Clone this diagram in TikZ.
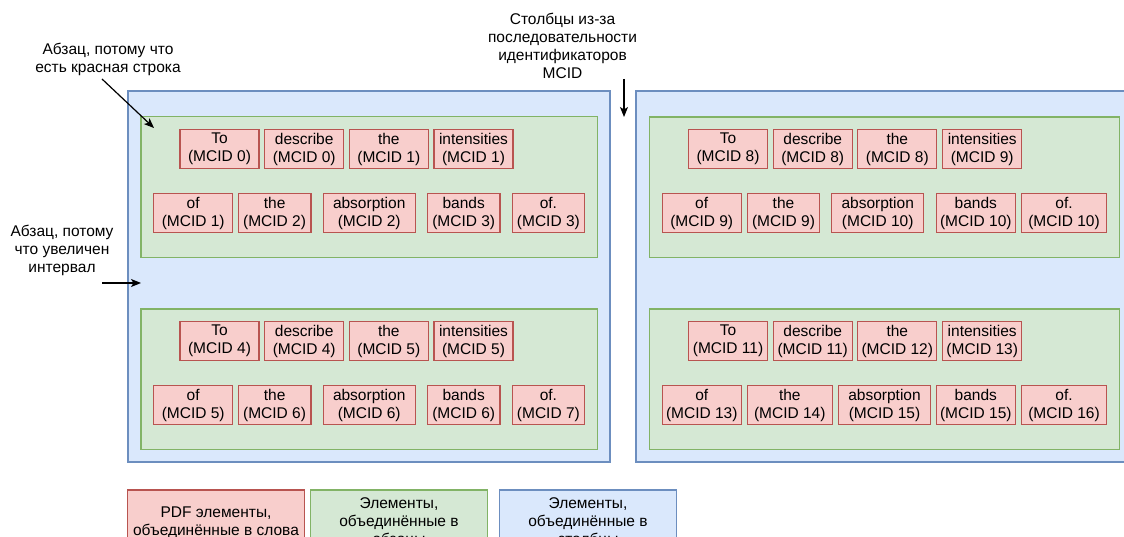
\documentclass[tikz,border=0pt]{standalone}
\usepackage{fontspec}
\setmainfont{Liberation Sans}
\usetikzlibrary{arrows.meta}
\definecolor{rfill}{HTML}{F8CECC}
\definecolor{rdraw}{HTML}{B85450}
\definecolor{gfill}{HTML}{D5E8D4}
\definecolor{gdraw}{HTML}{82B366}
\definecolor{bfill}{HTML}{DAE8FC}
\definecolor{bdraw}{HTML}{6C8EBF}
\tikzset{
  every node/.style={font=\fontsize{15.5}{18}\selectfont, inner sep=0pt, outer sep=0pt},
  wordbox/.style={draw=rdraw, fill=rfill, line width=1.2pt, minimum height=38.6pt, align=center},
  parbox/.style={draw=gdraw, fill=gfill, line width=1.2pt},
  colbox/.style={draw=bdraw, fill=bfill, line width=1.2pt},
  legbox/.style={line width=1.2pt, minimum width=177pt, minimum height=62pt, align=center, text depth=0pt},
  note/.style={align=center},
  arr/.style={line width=1.2pt, -{Stealth[length=10pt,width=8pt,inset=2.5pt]}}
}
\newcommand{\wbx}[6]{\node[wordbox, minimum width=#4pt] (#1) at (#2,#3) {#5\\(MCID #6)};}
\begin{document}
\begin{tikzpicture}[x=1pt,y=-1pt]
\useasboundingbox (0,0) rectangle (1124,537);
\clip (0,0) rectangle (1124,537);
% columns
\node[colbox, minimum width=482pt, minimum height=371pt] (colL) at (369,276.5) {};
\node[colbox, minimum width=494pt, minimum height=371pt] (colR) at (883,276.5) {};
% paragraphs
\node[parbox, minimum width=456.5pt, minimum height=140.5pt] (pLT) at (369.2,187.1) {};
\node[parbox, minimum width=456.5pt, minimum height=140.5pt] (pLB) at (369.2,379.3) {};
\node[parbox, minimum width=470pt, minimum height=140.5pt] (pRT) at (884.3,187.2) {};
\node[parbox, minimum width=470pt, minimum height=140.5pt] (pRB) at (884.3,379.3) {};
% left top
\wbx{a1}{219.5}{149}{79}{To}{0}
\wbx{a2}{304.2}{149}{79}{describe}{0}
\wbx{a3}{388.8}{149}{79}{the}{1}
\wbx{a4}{473.5}{149}{79}{intensities}{1}
\wbx{a5}{193.2}{213}{79}{of}{1}
\wbx{a6}{274.6}{213}{72.6}{the}{2}
\wbx{a7}{369.2}{213}{92}{absorption}{2}
\wbx{a8}{463.7}{213}{72.7}{bands}{3}
\wbx{a9}{548.4}{213}{72.5}{of.}{3}
% left bottom
\wbx{b1}{219.5}{341}{79}{To}{4}
\wbx{b2}{304.2}{341}{79}{describe}{4}
\wbx{b3}{388.8}{341}{79}{the}{5}
\wbx{b4}{473.5}{341}{79}{intensities}{5}
\wbx{b5}{193.2}{405}{79}{of}{5}
\wbx{b6}{274.6}{405}{72.6}{the}{6}
\wbx{b7}{369.2}{405}{92}{absorption}{6}
\wbx{b8}{463.7}{405}{72.7}{bands}{6}
\wbx{b9}{548.4}{405}{72.5}{of.}{7}
% right top
\wbx{c1}{728}{149}{79}{To}{8}
\wbx{c2}{812.7}{149}{79}{describe}{8}
\wbx{c3}{897.3}{149}{79}{the}{8}
\wbx{c4}{982.2}{149}{79}{intensities}{9}
\wbx{c5}{701.7}{213}{79}{of}{9}
\wbx{c6}{783.5}{213}{72.4}{the}{9}
\wbx{c7}{877.7}{213}{92}{absorption}{10}
\wbx{c8}{975.8}{213}{79}{bands}{10}
\wbx{c9}{1064}{213}{85.4}{of.}{10}
% right bottom
\wbx{d1}{728}{341}{79}{To}{11}
\wbx{d2}{812.7}{341}{79}{describe}{11}
\wbx{d3}{897.3}{341}{79}{the}{12}
\wbx{d4}{982.2}{341}{79}{intensities}{13}
\wbx{d5}{701.8}{405}{79}{of}{13}
\wbx{d6}{789.8}{405}{85}{the}{14}
\wbx{d7}{884.5}{405}{91.6}{absorption}{15}
\wbx{d8}{975.8}{405}{79}{bands}{15}
\wbx{d9}{1064}{405}{85.4}{of.}{16}
% notes
\node[note] (n1) at (108,59.5) {Абзац, потому что\\есть красная строка};
\node[note] (n2) at (62,250.5) {Абзац, потому\\что увеличен\\интервал};
\node[note] (n3) at (562.5,46) {Столбцы из-за\\последовательности\\идентификаторов\\MCID};
\coordinate (s1) at (102,79);
\coordinate (e1) at (154,128);
\coordinate (s2) at (102,283);
\coordinate (e2) at (141,283);
\coordinate (s3) at (624,79);
\coordinate (e3) at (624,117);
\draw[arr] (s1) -- (e1);
\draw[arr] (s2) -- (e2);
\draw[arr] (s3) -- (e3);
% legend
\node[legbox, draw=rdraw, fill=rfill] (l1) at (216,521) {\fontsize{15.5}{21}\selectfont PDF элементы,\\объединённые в слова};
\node[legbox, draw=gdraw, fill=gfill] (l2) at (399,521) {\fontsize{15.5}{21}\selectfont Элементы,\\объединённые в\\абзацы};
\node[legbox, draw=bdraw, fill=bfill] (l3) at (588,521) {\fontsize{15.5}{21}\selectfont Элементы,\\объединённые в\\столбцы};
\end{tikzpicture}
\end{document}
